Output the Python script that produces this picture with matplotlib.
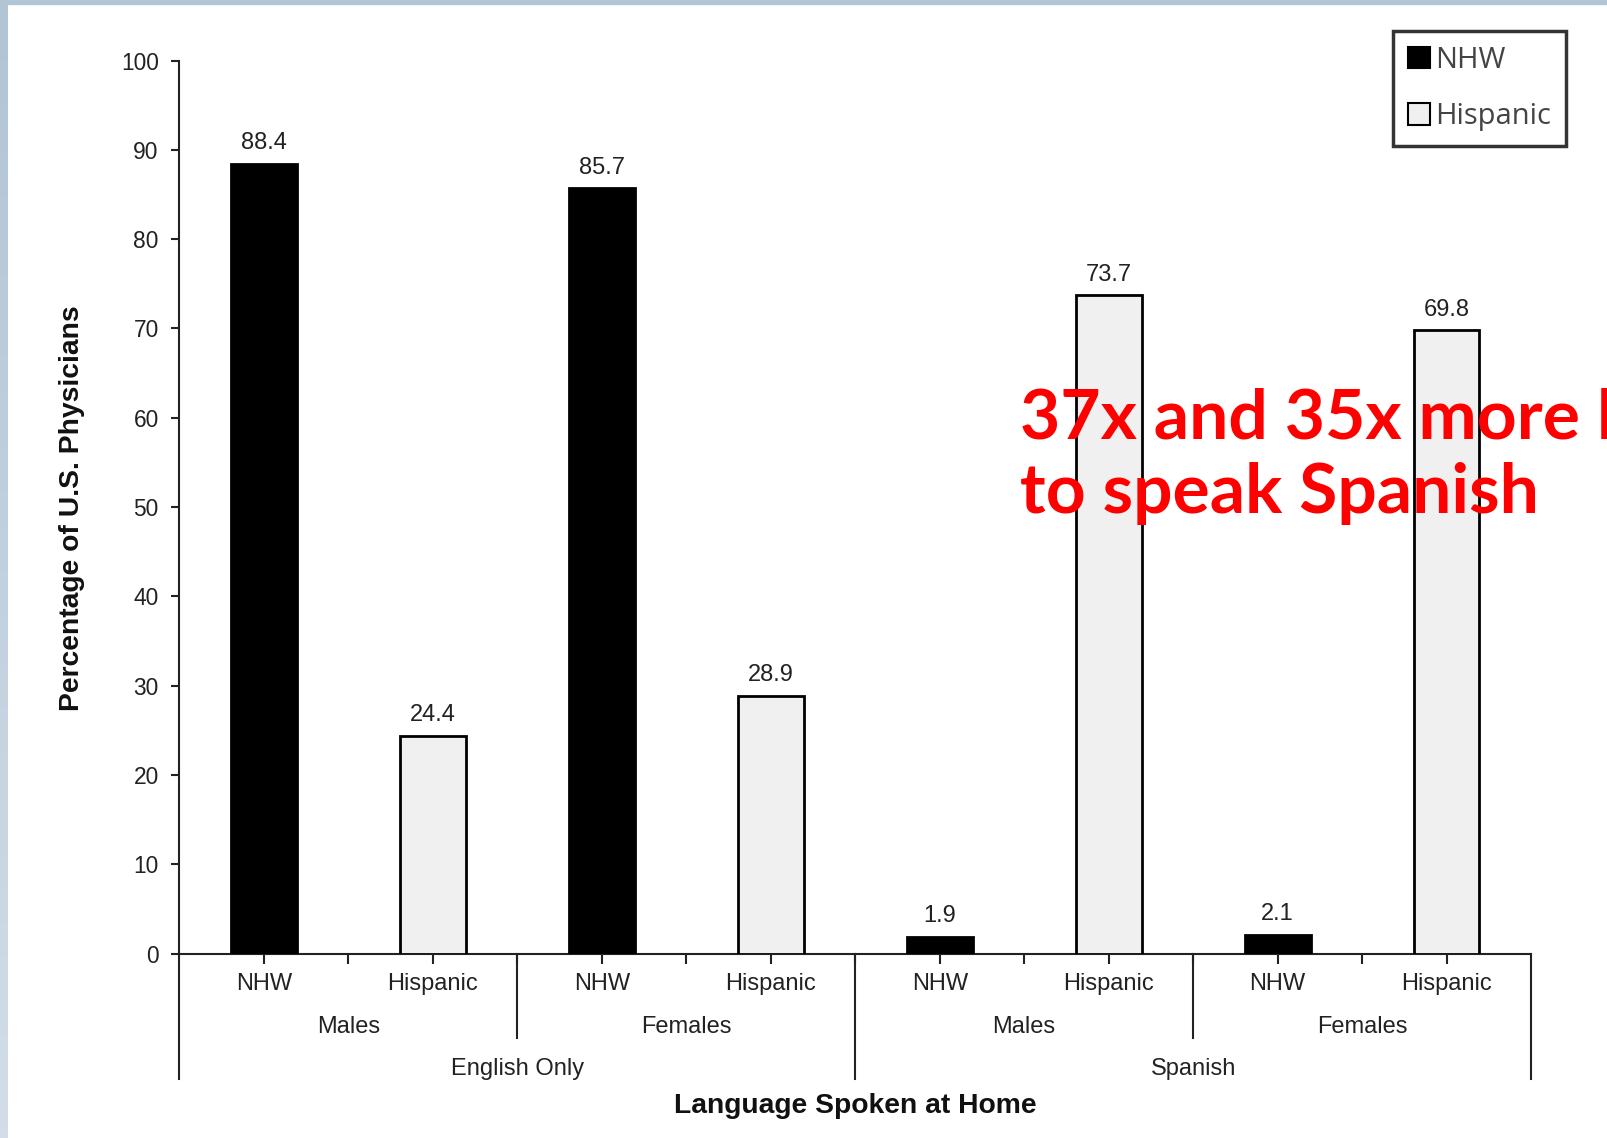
import numpy as np
import matplotlib.pyplot as plt
from matplotlib.patches import Patch, Rectangle
from matplotlib.transforms import blended_transform_factory

# share of U.S. physicians by language spoken at home
groups = ["English Only", "Spanish"]
sexes = ["Males", "Females"]
ethnicities = ["NHW", "Hispanic"]
nhw = [88.4, 85.7, 1.9, 2.1]
hispanic = [24.4, 28.9, 73.7, 69.8]

values = []
for a, b in zip(nhw, hispanic):
    values += [a, b]
x = np.arange(len(values)) + 0.5
colors = ["black", "#f0f0f0"] * 4

plt.rcParams["font.family"] = ["Liberation Sans", "DejaVu Sans"]

fig = plt.figure(figsize=(16.08, 11.38), dpi=100)
fig.patch.set_facecolor("white")

# slide frame: thin band on top, gradient band on the left
fig.patches.append(Rectangle((0, 1 - 4 / 1138), 1, 4 / 1138, transform=fig.transFigure,
                             color="#b1c5d5", zorder=0))
band = fig.add_axes([0, 0, 8 / 1608, 1 - 4 / 1138])
band.imshow(np.linspace(0, 1, 100).reshape(-1, 1), aspect="auto",
            cmap=plt.matplotlib.colors.LinearSegmentedColormap.from_list("b", ["#b1c5d5", "#d2dde7"]))
band.axis("off")

ax = fig.add_axes([179.5 / 1608, 1 - 953.7 / 1138, (1531 - 179.5) / 1608, (953.7 - 60.5) / 1138])
ax.bar(x, values, width=0.39, color=colors, edgecolor="black", linewidth=2, zorder=3)

for xi, v in zip(x, values):
    ax.annotate(f"{v}", (xi, v), xytext=(0, 7), textcoords="offset points",
                ha="center", va="bottom", fontsize=17, color="#222222")

ax.set_xlim(0, 8)
ax.set_ylim(0, 100)
ax.set_yticks(range(0, 101, 10))
ax.tick_params(axis="y", labelsize=16.4, length=6, width=1.5, pad=9, colors="#222222")
ax.set_xticks(x, ethnicities * 4)
ax.set_xticks(np.arange(1, 8), minor=True)
ax.tick_params(axis="x", which="both", length=7, width=1.5, direction="out", colors="#222222")
ax.tick_params(axis="x", which="major", labelsize=17, pad=7)

for s in ["top", "right"]:
    ax.spines[s].set_visible(False)
ax.spines["left"].set_linewidth(1.5)
ax.spines["bottom"].set_linewidth(1.5)
ax.spines["left"].set_color("#222222")
ax.spines["bottom"].set_color("#222222")

# second and third level of the category axis
tr = blended_transform_factory(ax.transData, fig.transFigure)
def fy(px):
    return 1 - px / 1138

for xs in [2, 6]:
    ax.plot([xs, xs], [fy(954), fy(1038)], transform=tr, color="#222222", lw=1.5, clip_on=False)
for xs in [0, 4, 8]:
    ax.plot([xs, xs], [fy(954), fy(1079)], transform=tr, color="#222222", lw=1.5, clip_on=False)

for i in range(4):
    ax.text(2 * i + 1, fy(1027), sexes[i % 2], transform=tr, ha="center", va="center",
            fontsize=17, color="#222222")
for i, g in enumerate(groups):
    ax.text(4 * i + 2, fy(1069), g, transform=tr, ha="center", va="center",
            fontsize=17, color="#222222")

ax.text(4, fy(1106), "Language Spoken at Home", transform=tr, ha="center", va="center",
        fontsize=20.3, fontweight="bold", color="#111111")
fig.text(72 / 1608, fy(508), "Percentage of U.S. Physicians", ha="center", va="center",
         rotation=90, fontsize=20.3, fontweight="bold", color="#111111")

handles = [Patch(facecolor="black", edgecolor="black", linewidth=1.5),
           Patch(facecolor="#f0f0f0", edgecolor="black", linewidth=1.5)]
leg = fig.legend(handles, ethnicities, loc="upper right", bbox_to_anchor=(1566 / 1608, fy(31)),
                 frameon=True, fancybox=False, handlelength=0.75, handleheight=0.75,
                 handletextpad=0.2, labelspacing=0.95, borderpad=0.5, borderaxespad=0,
                 prop={"family": "Open Sans", "size": 21}, labelcolor="#444444")
leg.get_frame().set_edgecolor("black")
leg.get_frame().set_linewidth(2.5)

# callout, running off the right edge of the slide
callout = ["37x and 35x more likely", "to speak Spanish"]
for line, base in zip(callout, [439, 513]):
    fig.text(1020 / 1608, fy(base), line, ha="left", va="baseline", fontsize=50,
             fontweight="bold", color="#ff0000", family="Lato", zorder=10)

fig.savefig("out.png", dpi=100)
